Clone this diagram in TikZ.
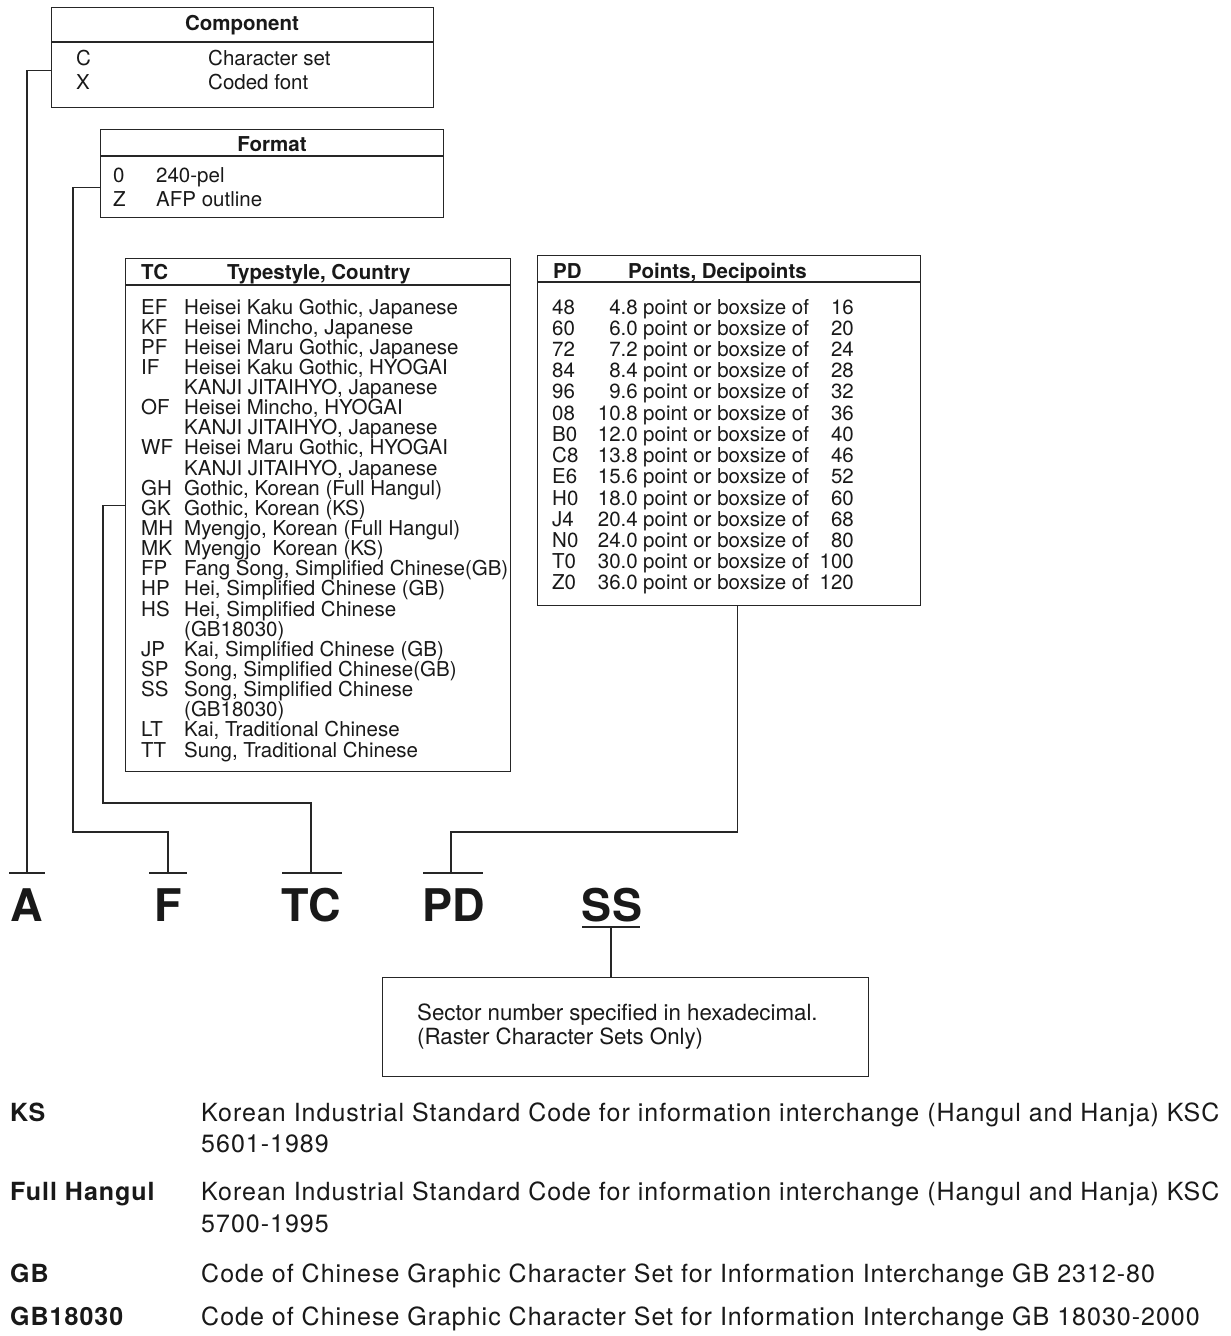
\documentclass[tikz,border=0pt]{standalone}
\usepackage{fontspec}
\setmainfont{TeX Gyre Heros}
\newfontfamily\legfont{TeX Gyre Heros}[LetterSpace=4]
\usetikzlibrary{calc}
\tikzset{
  ln/.style={line width=1.3pt, draw=black!85},
  boxn/.style={draw=black!85, line width=1.3pt, inner sep=0, anchor=north west},
  txt/.style={inner sep=0, anchor=base west, text=black!90, font=\fontsize{20.5}{24}\selectfont},
  txtr/.style={txt, anchor=base east},
  sectxt/.style={txt, font=\fontsize{22.3}{26}\selectfont},
  hdr/.style={inner sep=0, anchor=base west, text=black!90, font=\fontsize{20.5}{24}\selectfont\bfseries},
  hdrc/.style={hdr, anchor=base},
  big/.style={inner sep=0, anchor=base, text=black!90, font=\fontsize{45}{50}\selectfont\bfseries},
  legt/.style={inner sep=0, anchor=base west, text=black!90, font=\fontsize{25}{31}\selectfont\legfont\bfseries},
  legd/.style={inner sep=0, anchor=base west, text=black!90, font=\fontsize{25}{31}\selectfont\legfont},
}
\begin{document}
\begin{tikzpicture}[x=1pt,y=-1pt]
\useasboundingbox[fill=white] (0,0) rectangle (1231,1336);

% ---------- Component box ----------
\node[boxn, minimum width=382, minimum height=100] (comp) at (51,7) {};
\draw[ln] ([yshift=-35]comp.north west) -- ([yshift=-35]comp.north east);
\node[hdrc] (compT) at (242,30) {Component};
\node[txt] (compC) at (76,65) {C};
\node[txt] (compCt) at (208,65) {Character set};
\node[txt] (compX) at (76,89) {X};
\node[txt] (compXt) at (208,89) {Coded font};

% ---------- Format box ----------
\node[boxn, minimum width=343, minimum height=88] (form) at (100,129) {};
\draw[ln] ([yshift=-27]form.north west) -- ([yshift=-27]form.north east);
\node[hdrc] (formT) at (272,151) {Format};
\node[txt] (form0) at (113,182) {0};
\node[txt] (form0t) at (156,182) {240-pel};
\node[txt] (formZ) at (113,206) {Z};
\node[txt] (formZt) at (156,206) {AFP outline};

% ---------- TC box ----------
\node[boxn, minimum width=385, minimum height=513] (tcb) at (125,258) {};
\draw[ln] ([yshift=-27]tcb.north west) -- ([yshift=-27]tcb.north east);
\node[hdr] (tcH1) at (141,279) {TC};
\node[hdr] (tcH2) at (227,279) {Typestyle, Country};
\foreach \t [count=\i from 0] in {
  {Heisei Kaku Gothic, Japanese},
  {Heisei Mincho, Japanese},
  {Heisei Maru Gothic, Japanese},
  {Heisei Kaku Gothic, HYOGAI},
  {KANJI JITAIHYO, Japanese},
  {Heisei Mincho, HYOGAI},
  {KANJI JITAIHYO, Japanese},
  {Heisei Maru Gothic, HYOGAI},
  {KANJI JITAIHYO, Japanese},
  {Gothic, Korean (Full Hangul)},
  {Gothic, Korean (KS)},
  {Myengjo, Korean (Full Hangul)},
  {Myengjo\ \ Korean (KS)},
  {Fang Song, Simplified Chinese(GB)},
  {Hei, Simplified Chinese (GB)},
  {Hei, Simplified Chinese},
  {(GB18030)},
  {Kai, Simplified Chinese (GB)},
  {Song, Simplified Chinese(GB)},
  {Song, Simplified Chinese},
  {(GB18030)},
  {Kai, Traditional Chinese},
  {Sung, Traditional Chinese}}
  \node[txt] (tct\i) at (184,314+20.14*\i) {\t};
\foreach \c/\i in {EF/0,KF/1,PF/2,IF/3,OF/5,WF/7,GH/9,GK/10,MH/11,MK/12,FP/13,HP/14,HS/15,JP/17,SP/18,SS/19,LT/21,TT/22}
  \node[txt] (tcc\i) at (141,314+20.14*\i) {\c};

% ---------- PD box ----------
\node[boxn, minimum width=383, minimum height=350] (pdb) at (537,255) {};
\draw[ln] ([yshift=-27]pdb.north west) -- ([yshift=-27]pdb.north east);
\node[hdr] (pdH1) at (553,278) {PD};
\node[hdr] (pdH2) at (628,278) {Points, Decipoints};
\foreach \c/\p/\s [count=\i from 0] in {48/4.8/16,60/6.0/20,72/7.2/24,84/8.4/28,96/9.6/32,08/10.8/36,B0/12.0/40,C8/13.8/46,E6/15.6/52,H0/18.0/60,J4/20.4/68,N0/24.0/80,T0/30.0/100,Z0/36.0/120}{
  \node[txt] (pdc\i) at (552,314+21.23*\i) {\c};
  \node[txtr] (pdp\i) at (638,314+21.23*\i) {\p};
  \node[txt] (pdw\i) at (643,314+21.23*\i) {point or boxsize of};
  \node[txtr] (pds\i) at (854,314+21.23*\i) {\s};
}

% ---------- Big letters ----------
\node[big] (lA) at (27,921) {A};
\node[big] (lF) at (168,921) {F};
\node[big] (lTC) at (311,921) {TC};
\node[big] (lPD) at (454,921) {PD};
\node[big] (lSS) at (612,921) {SS};

\coordinate (tA) at (27,873);
\coordinate (tF) at (168,873);
\coordinate (tTC) at (311,873);
\coordinate (tPD) at (451,873);
\coordinate (sU) at (611,927);
\coordinate (fb) at (73,832);
\coordinate (tcbend) at (103,803);
\coordinate (pdbend) at (451,832);

\draw[ln] ([xshift=-18]tA) -- ([xshift=18]tA);
\draw[ln] ([xshift=-19]tF) -- ([xshift=19]tF);
\draw[ln] ([xshift=-29]tTC) -- ([xshift=31]tTC);
\draw[ln] ([xshift=-28]tPD) -- ([xshift=32]tPD);
\draw[ln] ([xshift=-29]sU) -- ([xshift=29]sU);

% ---------- Connectors ----------
\draw[ln] ([yshift=-13]comp.west) -| (tA);
\draw[ln] ([yshift=-14]form.west) -| (fb) -| (tF);
\draw[ln] ([yshift=9.5]tcb.west) -| (tcbend) -| (tTC);
\draw[ln] ([xshift=8.5]pdb.south) |- (pdbend) -- (tPD);

% ---------- Sector box ----------
\node[boxn, minimum width=486, minimum height=99] (secb) at (382,977) {};
\draw[ln] (sU) -- (sU |- secb.north);
\node[sectxt] (sec1) at (417,1020) {Sector number specified in hexadecimal.};
\node[sectxt] (sec2) at (417,1044) {(Raster Character Sets Only)};

% ---------- Legend ----------
\node[legt] (kKS) at (10,1121) {KS};
\node[legd] (dKS1) at (201,1121) {Korean Industrial Standard Code for information interchange (Hangul and Hanja) KSC};
\node[legd] (dKS2) at (201,1152) {5601-1989};
\node[legt] (kFH) at (10,1200) {Full Hangul};
\node[legd] (dFH1) at (201,1200) {Korean Industrial Standard Code for information interchange (Hangul and Hanja) KSC};
\node[legd] (dFH2) at (201,1232) {5700-1995};
\node[legt] (kGB) at (10,1282) {GB};
\node[legd] (dGB) at (201,1282) {Code of Chinese Graphic Character Set for Information Interchange GB 2312-80};
\node[legt] (kGB2) at (10,1325) {GB18030};
\node[legd] (dGB2) at (201,1325) {Code of Chinese Graphic Character Set for Information Interchange GB 18030-2000};
\end{tikzpicture}
\end{document}
